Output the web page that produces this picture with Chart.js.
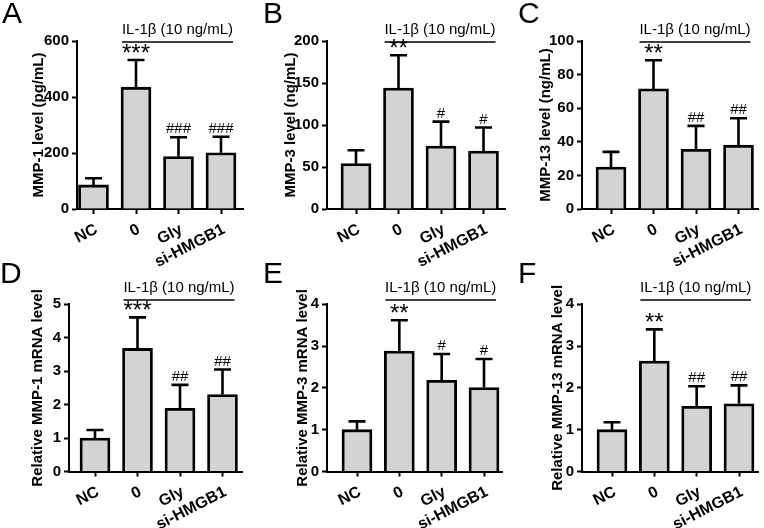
<!DOCTYPE html>
<html>
<head>
<meta charset="utf-8">
<script src="https://cdn.jsdelivr.net/npm/chart.js@4"></script>
<style>
  body { margin: 0; background: #fff; }
  #fig { position: relative; width: 764px; height: 528px; overflow: hidden; }
  #fig canvas { position: absolute; }
  .tag { position: absolute; font: 30px/30px "Liberation Sans", Arial, sans-serif; color: #000; }
</style>
</head>
<body>
<div id="fig"></div>
<script>
const categories = ['NC', '0', 'Gly', 'si-HMGB1'];
const treatLabel = 'IL-1β (10 ng/mL)';

// protein levels (ELISA)
const mmp1Level = [86, 435, 187, 201];
const mmp1Sd = [24, 97, 69, 57];
const mmp1Marks = ['', '***', '###', '###'];

const mmp3Level = [54, 144, 75, 69];
const mmp3Sd = [16, 39, 29, 28];
const mmp3Marks = ['', '**', '#', '#'];

const mmp13Level = [25, 71.5, 35.5, 38];
const mmp13Sd = [9, 17, 14, 16];
const mmp13Marks = ['', '**', '##', '##'];

// relative mRNA levels
const mmp1Mrna = [1.0, 3.68, 1.89, 2.30];
const mmp1MrnaSd = [0.24, 0.93, 0.70, 0.75];
const mmp1MrnaMarks = ['', '***', '##', '##'];

const mmp3Mrna = [1.0, 2.88, 2.18, 2.01];
const mmp3MrnaSd = [0.2, 0.74, 0.63, 0.68];
const mmp3MrnaMarks = ['', '**', '#', '#'];

const mmp13Mrna = [1.0, 2.64, 1.56, 1.62];
const mmp13MrnaSd = [0.18, 0.76, 0.48, 0.44];
const mmp13MrnaMarks = ['', '**', '##', '##'];

const FONT = '"Liberation Sans", Arial, sans-serif';

// draws error bars, significance marks and the IL-1β bracket
const extras = {
  id: 'extras',
  afterDatasetsDraw(chart, args, opts) {
    const ctx = chart.ctx;
    const y = chart.scales.y;
    const bars = chart.getDatasetMeta(0).data;
    ctx.save();
    ctx.strokeStyle = '#000';
    ctx.fillStyle = '#000';
    ctx.textAlign = 'center';
    ctx.textBaseline = 'alphabetic';
    ctx.lineWidth = 2.6;
    bars.forEach((bar, i) => {
      const top = y.getPixelForValue(opts.values[i] + opts.sd[i]);
      ctx.beginPath();
      ctx.moveTo(bar.x, bar.y);
      ctx.lineTo(bar.x, top);
      ctx.moveTo(bar.x - 8.5, top);
      ctx.lineTo(bar.x + 8.5, top);
      ctx.stroke();
      const m = opts.marks[i];
      if (m.startsWith('*')) {
        ctx.font = '24px ' + FONT;
        ctx.fillText(m, bar.x, top + 1);
      } else if (m) {
        ctx.font = '15px ' + FONT;
        ctx.fillText(m, bar.x, top - 4);
      }
    });
    const x1 = bars[1].x - 14, x2 = bars[3].x + 12;
    ctx.lineWidth = 1.6;
    ctx.beginPath();
    ctx.moveTo(x1, opts.lineY);
    ctx.lineTo(x2, opts.lineY);
    ctx.stroke();
    ctx.font = '15px ' + FONT;
    ctx.fillText(treatLabel, (x1 + x2) / 2, opts.lineY - 8.5);
    ctx.restore();
  }
};

const panels = [
  { tag: 'A', left: 0, top: 0, w: 258, h: 290, plotTop: 41, plotBottom: 209, lineY: 42,
    axisX: 77, axisEnd: 243, firstGap: 16.5, lastGap: 22, titleX: 38.5,
    yMax: 600, yStep: 200, title: 'MMP-1 level (pg/mL)',
    values: mmp1Level, sd: mmp1Sd, marks: mmp1Marks, tagX: 2, tagY: -2 },
  { tag: 'B', left: 250, top: 0, w: 258, h: 290, plotTop: 41, plotBottom: 209, lineY: 42,
    axisX: 327, axisEnd: 505, firstGap: 29, lastGap: 21.5, titleX: 40.5,
    yMax: 200, yStep: 50, title: 'MMP-3 level (ng/mL)',
    values: mmp3Level, sd: mmp3Sd, marks: mmp3Marks, tagX: 263, tagY: -2 },
  { tag: 'C', left: 505, top: 0, w: 259, h: 290, plotTop: 41, plotBottom: 209, lineY: 42,
    axisX: 582, axisEnd: 758, firstGap: 29, lastGap: 19.5, titleX: 40.5,
    yMax: 100, yStep: 20, title: 'MMP-13 level (ng/mL)',
    values: mmp13Level, sd: mmp13Sd, marks: mmp13Marks, tagX: 518, tagY: -2 },
  { tag: 'D', left: 0, top: 262, w: 258, h: 266, plotTop: 42.3, plotBottom: 209.5, lineY: 38,
    axisX: 69, axisEnd: 242, firstGap: 26, lastGap: 19.5, titleX: 37.5,
    yMax: 5, yStep: 1, title: 'Relative MMP-1 mRNA level',
    values: mmp1Mrna, sd: mmp1MrnaSd, marks: mmp1MrnaMarks, tagX: 0, tagY: 258 },
  { tag: 'E', left: 250, top: 262, w: 258, h: 266, plotTop: 42.3, plotBottom: 209.5, lineY: 38,
    axisX: 327, axisEnd: 502, firstGap: 30, lastGap: 18, titleX: 52.5,
    yMax: 4, yStep: 1, title: 'Relative MMP-3 mRNA level',
    values: mmp3Mrna, sd: mmp3MrnaSd, marks: mmp3MrnaMarks, tagX: 263, tagY: 258 },
  { tag: 'F', left: 505, top: 262, w: 259, h: 266, plotTop: 42.3, plotBottom: 209.5, lineY: 38,
    axisX: 582, axisEnd: 758, firstGap: 30, lastGap: 19, titleX: 52.5,
    yMax: 4, yStep: 1, title: 'Relative MMP-13 mRNA level',
    values: mmp13Mrna, sd: mmp13MrnaSd, marks: mmp13MrnaMarks, tagX: 518, tagY: 258 }
];

const fig = document.getElementById('fig');

panels.forEach(p => {
  const canvas = document.createElement('canvas');
  canvas.width = p.w;
  canvas.height = p.h;
  canvas.style.left = p.left + 'px';
  canvas.style.top = p.top + 'px';
  fig.appendChild(canvas);

  const tag = document.createElement('div');
  tag.className = 'tag';
  tag.textContent = p.tag;
  tag.style.left = p.tagX + 'px';
  tag.style.top = p.tagY + 'px';
  fig.appendChild(tag);

  const n = categories.length;
  const step = (p.axisEnd - p.axisX - p.firstGap - p.lastGap) / (n - 1);

  new Chart(canvas, {
    type: 'bar',
    data: {
      datasets: [{
        data: p.values.map((v, i) => ({ x: i, y: v })),
        backgroundColor: '#d3d3d3',
        borderColor: '#000',
        borderWidth: 2.8,
        barThickness: 30
      }]
    },
    options: {
      responsive: false,
      animation: false,
      layout: { padding: { top: p.plotTop, left: 0, bottom: 0, right: p.left + p.w - p.axisEnd } },
      plugins: {
        legend: { display: false },
        tooltip: { enabled: false },
        extras: { values: p.values, sd: p.sd, marks: p.marks, lineY: p.lineY }
      },
      scales: {
        x: {
          type: 'linear',
          offset: false,
          min: -p.firstGap / step,
          max: (n - 1) + p.lastGap / step,
          afterBuildTicks: s => { s.ticks = categories.map((c, i) => ({ value: i })); },
          afterFit: s => { s.height = p.h - p.plotBottom; },
          border: { display: true, color: '#000', width: 2 },
          grid: { display: true, offset: false, drawOnChartArea: false, drawTicks: true, tickLength: 5, tickColor: '#000', tickWidth: 2 },
          ticks: {
            autoSkip: false, minRotation: 27, maxRotation: 27, padding: 6, labelOffset: 3,
            color: '#000', font: { family: FONT, size: 16, weight: 'bold' },
            callback: v => categories[v]
          }
        },
        y: {
          min: 0,
          max: p.yMax,
          afterFit: s => { s.width = p.axisX - p.left; },
          border: { display: true, color: '#000', width: 2 },
          grid: { display: true, drawOnChartArea: false, drawTicks: true, tickLength: 5, tickColor: '#000', tickWidth: 2 },
          ticks: {
            stepSize: p.yStep, padding: 3,
            color: '#000', font: { family: FONT, size: 15, weight: 'bold' }
          },
          title: {
            display: true, text: p.title, color: '#000',
            font: { family: FONT, size: 15, weight: 'bold' },
            padding: { top: p.titleX - 9, bottom: 0 }
          }
        }
      }
    },
    plugins: [extras]
  });
});
</script>
</body>
</html>
